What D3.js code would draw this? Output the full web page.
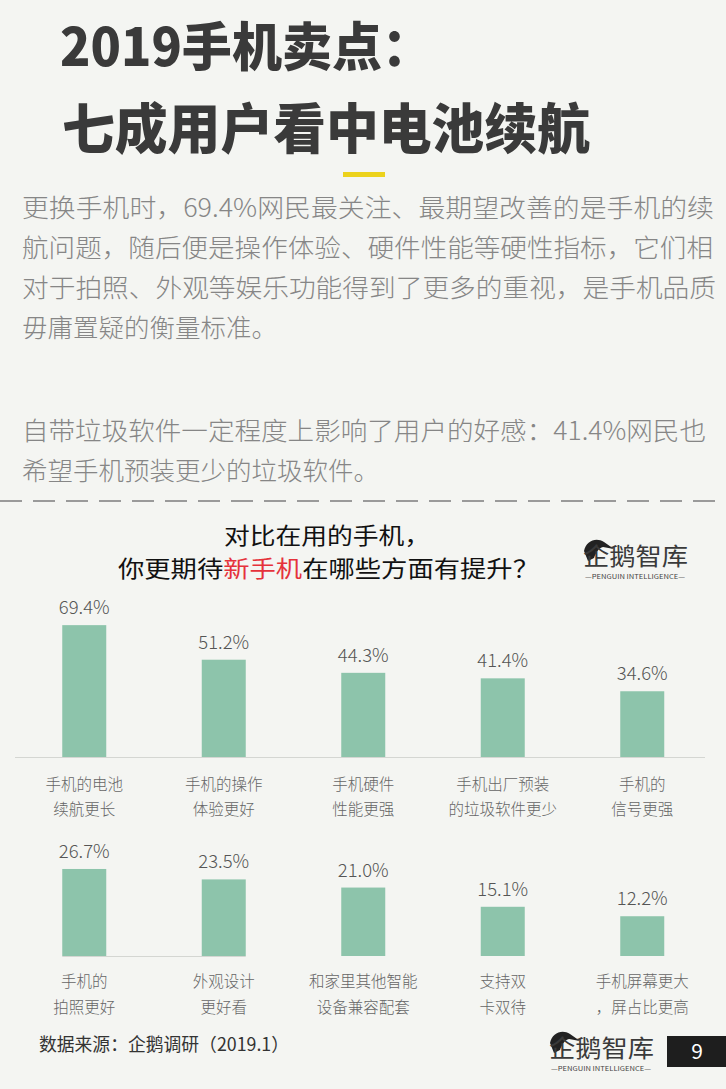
<!DOCTYPE html>
<html>
<head>
<meta charset="utf-8">
<script src="https://cdn.jsdelivr.net/npm/d3@7.9.0/dist/d3.min.js"></script>
<style>
  html, body { margin: 0; padding: 0; background: #f4f5f2; }
  svg { display: block; }
  text { font-family: "Noto Sans CJK SC", "Noto Sans", sans-serif; }
</style>
</head>
<body>
<svg id="chart" width="726" height="1089"></svg>
<script>
// data, two rows of five bars
const categories1 = [
  ['手机的电池', '续航更长'],
  ['手机的操作', '体验更好'],
  ['手机硬件', '性能更强'],
  ['手机出厂预装', '的垃圾软件更少'],
  ['手机的', '信号更强']
];
const values1 = [69.4, 51.2, 44.3, 41.4, 34.6];

const categories2 = [
  ['手机的', '拍照更好'],
  ['外观设计', '更好看'],
  ['和家里其他智能', '设备兼容配套'],
  ['支持双', '卡双待'],
  ['手机屏幕更大', '，屏占比更高']
];
const values2 = [26.7, 23.5, 21.0, 15.1, 12.2];

const titleLines = ['2019手机卖点：', '七成用户看中电池续航'];
const paraLines = [
  '更换手机时，69.4%网民最关注、最期望改善的是手机的续',
  '航问题，随后便是操作体验、硬件性能等硬性指标，它们相',
  '对于拍照、外观等娱乐功能得到了更多的重视，是手机品质',
  '毋庸置疑的衡量标准。',
  '',
  '自带垃圾软件一定程度上影响了用户的好感：41.4%网民也',
  '希望手机预装更少的垃圾软件。'
];

const svg = d3.select('#chart');
const barColor = '#8dc4ab';

// page title
svg.append('text')
  .attr('x', 60).attr('y', 66)
  .attr('textLength', 372).attr('lengthAdjust', 'spacingAndGlyphs')
  .attr('font-size', 52).attr('font-weight', 900).attr('fill', '#3a3a3a')
  .text(titleLines[0]);
svg.append('text')
  .attr('x', 62).attr('y', 149)
  .attr('textLength', 528).attr('lengthAdjust', 'spacingAndGlyphs')
  .attr('font-size', 54).attr('font-weight', 900).attr('fill', '#3a3a3a')
  .text(titleLines[1]);
svg.append('rect')
  .attr('x', 343).attr('y', 172).attr('width', 42).attr('height', 5)
  .attr('fill', '#ecd21c');

// paragraph
const fullLines = { 0: 692, 1: 691, 2: 694, 5: 684 };
paraLines.forEach((line, i) => {
  if (!line) return;
  const t = svg.append('text')
    .attr('x', 22).attr('y', 217 + i * 40 + (i >= 4 ? 23 : 0))
    .attr('font-size', 25.5).attr('font-weight', 300).attr('fill', '#868686')
    .text(line);
  if (fullLines[i]) {
    t.attr('textLength', fullLines[i]).attr('lengthAdjust', 'spacingAndGlyphs');
  }
});

// dashed separator
svg.append('line')
  .attr('x1', 0).attr('x2', 726).attr('y1', 501).attr('y2', 501)
  .attr('stroke', '#9a9a9a').attr('stroke-width', 2)
  .attr('stroke-dasharray', '22 11');

// chart title
const ct = svg.append('g').attr('font-size', 22.5).attr('fill', '#111');
ct.append('text').attr('x', 224).attr('y', 544)
  .attr('textLength', 206).attr('lengthAdjust', 'spacingAndGlyphs')
  .text('对比在用的手机，');
const l2 = ct.append('text').attr('x', 118).attr('y', 577)
  .attr('textLength', 421).attr('lengthAdjust', 'spacingAndGlyphs');
l2.append('tspan').text('你更期待');
l2.append('tspan').attr('fill', '#e5323b').text('新手机');
l2.append('tspan').text('在哪些方面有提升？');

// logo
function logo(x, y) {
  const g = svg.append('g').attr('transform', `translate(${x},${y})`);
  g.append('path')
    .attr('d', 'M1,13 C3,3 13,-1 21,4 L31,11 L20,9 C16,10 13,14 11,20 L5,23 Z')
    .attr('fill', '#222');
  g.append('text').attr('x', 0).attr('y', 27)
    .attr('textLength', 105).attr('lengthAdjust', 'spacingAndGlyphs')
    .attr('font-size', 24).attr('fill', '#3a3a3a').text('企鹅智库');
  g.append('text').attr('x', 52).attr('y', 41).attr('text-anchor', 'middle')
    .attr('textLength', 100).attr('lengthAdjust', 'spacingAndGlyphs')
    .attr('font-family', 'DejaVu Sans Condensed, sans-serif')
    .attr('font-size', 6.5).attr('fill', '#444')
    .text('—PENGUIN INTELLIGENCE—');
}
logo(583, 538);

// bar rows
const x = d3.scalePoint()
  .domain(d3.range(5))
  .range([14.5, 712])
  .padding(0.5);
const barW = 44;

function drawRow(cats, vals, base, yMax, hMax, lineX, lab1, lab2) {
  const h = d3.scaleLinear().domain([0, yMax]).range([0, hMax]);
  const g = svg.append('g');
  g.append('line')
    .attr('x1', lineX[0]).attr('x2', lineX[1])
    .attr('y1', base + 0.5).attr('y2', base + 0.5)
    .attr('stroke', '#d4d6d2').attr('stroke-width', 1.2);
  g.selectAll('rect.bar').data(vals).join('rect')
    .attr('class', 'bar')
    .attr('x', (d, i) => x(i) - barW / 2)
    .attr('y', d => base - h(d))
    .attr('width', barW)
    .attr('height', d => h(d))
    .attr('fill', barColor);
  g.selectAll('text.val').data(vals).join('text')
    .attr('class', 'val')
    .attr('x', (d, i) => x(i))
    .attr('y', d => base - h(d) - 11)
    .attr('text-anchor', 'middle')
    .attr('font-size', 18.5).attr('font-weight', 300).attr('fill', '#555')
    .text(d => d.toFixed(1) + '%');
  cats.forEach((c, i) => {
    [lab1, lab2].forEach((yy, k) => {
      g.append('text')
        .attr('x', x(i)).attr('y', yy)
        .attr('text-anchor', 'middle')
        .attr('font-size', 15.5).attr('font-weight', 300).attr('fill', '#666')
        .text(c[k]);
    });
  });
}

drawRow(categories1, values1, 757, 70, 133, [15, 705], 790, 815);
drawRow(categories2, values2, 956, 27, 88,
  [x(0) - barW / 2, x(1) + barW / 2], 987, 1013);

// footer
svg.append('text')
  .attr('x', 39).attr('y', 1051)
  .attr('textLength', 250).attr('lengthAdjust', 'spacingAndGlyphs')
  .attr('font-size', 18).attr('fill', '#333')
  .text('数据来源：企鹅调研（2019.1）');
logo(549, 1030);
svg.append('rect')
  .attr('x', 667).attr('y', 1036).attr('width', 59).attr('height', 31)
  .attr('fill', '#1e1e1e');
svg.append('text')
  .attr('x', 697).attr('y', 1059).attr('text-anchor', 'middle')
  .attr('font-family', 'Liberation Sans, sans-serif')
  .attr('font-size', 21).attr('fill', '#fff').text('9');
</script>
</body>
</html>
